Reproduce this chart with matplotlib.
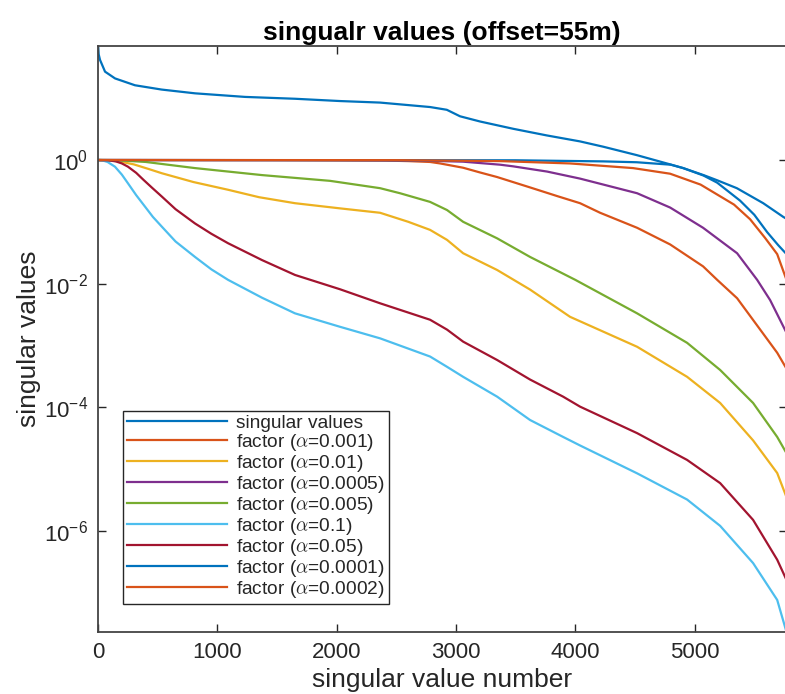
import matplotlib
matplotlib.use("Agg")
import matplotlib.pyplot as plt
from matplotlib.ticker import NullLocator, LogFormatterSciNotation

plt.rcParams['font.family'] = ['Liberation Sans', 'DejaVu Sans']
plt.rcParams['mathtext.fontset'] = 'cm'

# ---- data ----
sv_x = [0, 5, 17, 59, 143, 310, 534, 813, 1232, 1651, 2028, 2364, 2783, 2923, 3034,
        3202, 3480, 3761, 4040, 4235, 4515, 4795, 4904, 5075, 5189, 5354, 5575, 5743, 5770]
sv_y = [70, 52, 41.7, 26.9, 20.9, 16.2, 13.8, 12.0, 10.5, 9.8, 9.0, 8.5, 7.2, 6.5, 5.1,
        4.2, 3.2, 2.5, 2.0, 1.64, 1.2, 0.85, 0.74, 0.57, 0.47, 0.35, 0.20, 0.12, 0.112]

a001_x = [0, 1500, 2400, 2600, 2783, 2867, 3060, 3200, 3345, 3621, 3850, 4040, 4208, 4518,
          4795, 5071, 5189, 5356, 5524, 5692, 5770]
a001_y = [1.0, 0.995, 0.98, 0.96, 0.93, 0.88, 0.75, 0.63, 0.53, 0.36, 0.26, 0.20, 0.14,
          0.08, 0.043, 0.019, 0.0115, 0.0058, 0.0021, 0.00076, 0.00042]

a01_x = [0, 100, 200, 300, 420, 536, 800, 1090, 1350, 1651, 2028, 2364, 2600, 2783, 2925,
         3060, 3345, 3621, 3956, 4518, 4937, 5214, 5490, 5692, 5770]
a01_y = [1.0, 0.99, 0.93, 0.85, 0.72, 0.61, 0.44, 0.33, 0.25, 0.20, 0.165, 0.14, 0.10,
         0.074, 0.051, 0.031, 0.0166, 0.008, 0.0029, 0.00095, 0.00031, 0.000117, 2.9e-5,
         8.6e-6, 3.5e-6]

a0005_x = [0, 2000, 2700, 3060, 3370, 3479, 3764, 4040, 4518, 4795, 5071, 5356, 5524,
           5633, 5770]
a0005_y = [1.0, 0.995, 0.98, 0.94, 0.84, 0.79, 0.65, 0.50, 0.29, 0.17, 0.08, 0.031, 0.0115,
           0.0054, 0.0016]

a005_x = [0, 150, 400, 813, 1375, 1945, 2364, 2531, 2783, 2925, 3060, 3345, 3621, 4000,
          4518, 4937, 5214, 5490, 5692, 5770]
a005_y = [1.0, 0.995, 0.93, 0.74, 0.57, 0.46, 0.35, 0.29, 0.21, 0.155, 0.10, 0.054, 0.027,
          0.0115, 0.0033, 0.0011, 0.0004, 0.000117, 3.3e-5, 1.8e-5]

a1_x = [0, 34, 80, 142, 200, 251, 320, 394, 460, 536, 650, 813, 950, 1090, 1375, 1651,
        2028, 2364, 2783, 2925, 3060, 3345, 3621, 3898, 4040, 4518, 4937, 5214, 5490, 5692,
        5770]
a1_y = [1.0, 0.99, 0.93, 0.78, 0.58, 0.42, 0.27, 0.176, 0.12, 0.083, 0.048, 0.027, 0.017,
        0.0115, 0.0059, 0.0033, 0.002, 0.0013, 0.00066, 0.00045, 0.00031, 0.000148, 6.2e-5,
        3.3e-5, 2.4e-5, 8.5e-6, 3.2e-6, 1.2e-6, 3.0e-7, 7.6e-8, 2.3e-8]

a05_x = [0, 84, 150, 200, 251, 320, 380, 450, 536, 650, 813, 950, 1090, 1375, 1651, 2028,
         2364, 2783, 2925, 3060, 3345, 3621, 3898, 4040, 4518, 4937, 5214, 5490, 5692, 5770]
a05_y = [1.0, 0.99, 0.95, 0.88, 0.78, 0.62, 0.48, 0.36, 0.255, 0.16, 0.094, 0.064, 0.045,
         0.024, 0.0138, 0.0081, 0.0048, 0.0026, 0.0018, 0.00115, 0.00058, 0.00028, 0.000148,
         0.000102, 3.8e-5, 1.4e-5, 5.9e-6, 1.5e-6, 3.4e-7, 1.6e-7]

a0001_x = [0, 3500, 4235, 4515, 4800, 4904, 5075, 5189, 5381, 5500, 5608, 5700, 5770]
a0001_y = [1.0, 0.99, 0.95, 0.92, 0.84, 0.74, 0.56, 0.43, 0.22, 0.13, 0.068, 0.042, 0.03]

a0002_x = [0, 2500, 3370, 3956, 4484, 4795, 5050, 5330, 5465, 5590, 5692, 5770]
a0002_y = [1.0, 0.995, 0.96, 0.88, 0.74, 0.60, 0.40, 0.19, 0.11, 0.055, 0.03, 0.0115]

labels = ['singular values', r'factor ($\alpha$=0.001)', r'factor ($\alpha$=0.01)',
          r'factor ($\alpha$=0.0005)', r'factor ($\alpha$=0.005)', r'factor ($\alpha$=0.1)',
          r'factor ($\alpha$=0.05)', r'factor ($\alpha$=0.0001)', r'factor ($\alpha$=0.0002)']

colors = ['#0072BD', '#D95319', '#EDB120', '#7E2F8E', '#77AC30', '#4DBEEE', '#A2142F',
          '#0072BD', '#D95319']

series = [(sv_x, sv_y), (a001_x, a001_y), (a01_x, a01_y), (a0005_x, a0005_y),
          (a005_x, a005_y), (a1_x, a1_y), (a05_x, a05_y), (a0001_x, a0001_y),
          (a0002_x, a0002_y)]

yticks = [1e0, 1e-2, 1e-4, 1e-6]
xticks = [0, 1000, 2000, 3000, 4000, 5000]

# ---- figure ----
fig = plt.figure(figsize=(7.85, 6.94), dpi=100)
ax = fig.add_axes([98 / 785, 1 - 632 / 694, 688.5 / 785, 586 / 694])

for (xs, ys), c, lab in zip(series, colors, labels):
    ax.plot(xs, ys, color=c, lw=1.6, label=lab, solid_joinstyle='round')

ax.set_yscale('log')
allx = [v for xs, _ in series for v in xs]
ally = [v for _, ys in series for v in ys]
ax.set_xlim(min(allx), max(allx))
ax.set_ylim(min(ally), max(ally))
ax.set_xticks(xticks)
ax.set_yticks(yticks)
ax.yaxis.set_minor_locator(NullLocator())
ax.yaxis.set_major_formatter(LogFormatterSciNotation())

tc = '#262626'
for s in ax.spines.values():
    s.set_color('#444444')
    s.set_linewidth(1.3)
ax.tick_params(which='both', direction='in', top=True, right=True, length=6, width=1.0,
               colors=tc, labelsize=16)
ax.tick_params(axis='x', pad=7)
ax.tick_params(axis='y', pad=7)

ax.set_xlabel('singular value number', fontsize=19, color=tc)
ax.set_ylabel('singular values', fontsize=19, color=tc)
ax.xaxis.set_label_coords(0.5, -0.062)
ax.yaxis.set_label_coords(-0.083, 0.5)
ax.set_title('singualr values (offset=55m)', fontsize=19, fontweight='bold', color='black',
             pad=4)

leg = ax.legend(loc='lower left', bbox_to_anchor=((123 - 98) / 688.5, (632 - 604) / 586),
                fontsize=13.8, handlelength=5.2, handletextpad=0.5, labelspacing=0.0,
                borderpad=0.2, borderaxespad=0, fancybox=False, framealpha=1,
                edgecolor='#262626')
leg.get_frame().set_linewidth(1.0)
for t in leg.get_texts():
    t.set_color(tc)

fig.savefig('out.png', dpi=100)
